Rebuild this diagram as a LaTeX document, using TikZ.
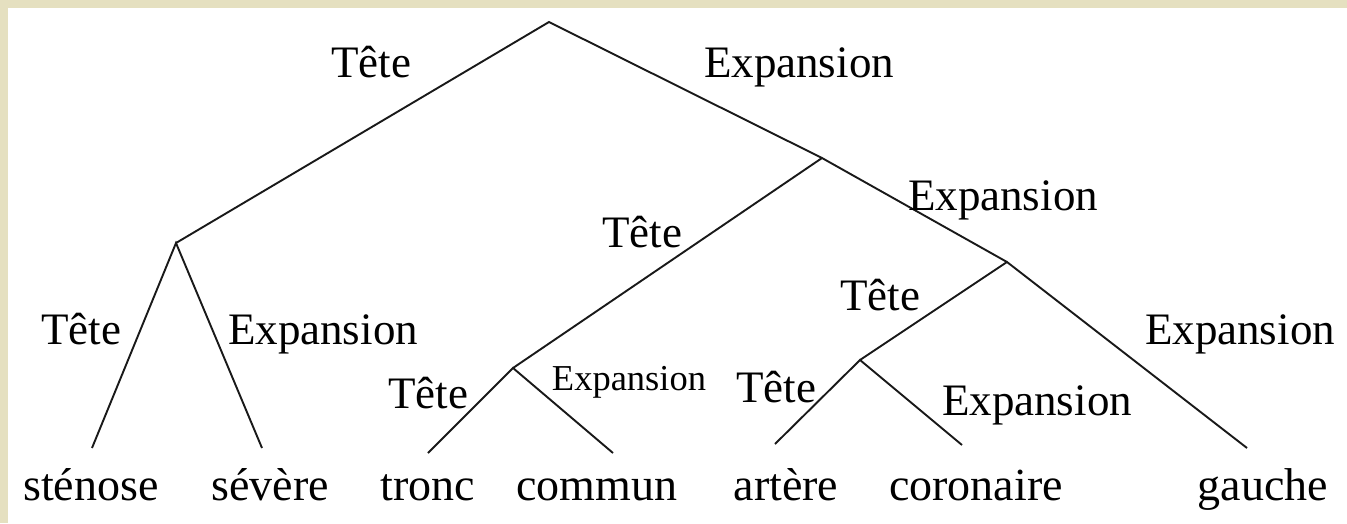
\documentclass[tikz,border=0pt]{standalone}
\usepackage{fontspec}
\setmainfont{Liberation Serif}
\definecolor{parch}{RGB}{229,224,192}
\definecolor{ink}{RGB}{25,25,25}
\tikzset{
  edge/.style={draw=ink, line width=1.9pt},
  lab/.style={anchor=base, inner sep=0pt, text=black, font=\fontsize{45}{50}\selectfont},
  smalllab/.style={anchor=base, inner sep=0pt, text=black, font=\fontsize{36.5}{40}\selectfont},
  leaf/.style={anchor=base, inner sep=0pt, text=black, font=\fontsize{46}{50}\selectfont}
}
\begin{document}
\begin{tikzpicture}[x=1pt,y=-1pt]
\useasboundingbox (0,0) rectangle (1347,523);
\fill[parch] (0,0) rectangle (1347,523);
\fill[white] (8,8) rectangle (1347,523);
% internal vertices
\coordinate (R) at (549,22);
\coordinate (A) at (176,243);
\coordinate (B) at (822,158);
\coordinate (C) at (1007,262);
\coordinate (D) at (513,368);
\coordinate (E) at (860,360);
% leaf line ends
\coordinate (l1) at (92,448);
\coordinate (l2) at (262,448);
\coordinate (l3) at (428,453);
\coordinate (l4) at (613,453);
\coordinate (l5) at (775,444);
\coordinate (l6) at (962,445);
\coordinate (l7) at (1247,448);
% edges
\draw[edge] (A) -- (R) -- (B);
\draw[edge] (D) -- (B) -- (C);
\draw[edge] (E) -- (C) -- (l7);
\draw[edge] (l1) -- (A) -- (l2);
\draw[edge] (l3) -- (D) -- (l4);
\draw[edge] (l5) -- (E) -- (l6);
% edge labels
\node[lab] (t1) at (371,77) {Tête};
\node[lab] (e1) at (799,77) {Expansion};
\node[lab] (e2) at (1003,210) {Expansion};
\node[lab] (t2) at (642,247) {Tête};
\node[lab] (t3) at (81,344) {Tête};
\node[lab] (e3) at (323,344) {Expansion};
\node[lab] (t4) at (880,310) {Tête};
\node[lab] (e4) at (1240,344) {Expansion};
\node[lab] (t5) at (428,408) {Tête};
\node[smalllab] (e5) at (629,390) {Expansion};
\node[lab] (t6) at (776,402) {Tête};
\node[lab] (e6) at (1037,415) {Expansion};
% leaves
\node[leaf] (w1) at (91,500) {sténose};
\node[leaf] (w2) at (270,500) {sévère};
\node[leaf] (w3) at (428,500) {tronc};
\node[leaf] (w4) at (597,500) {commun};
\node[leaf] (w5) at (786,500) {artère};
\node[leaf] (w6) at (976,500) {coronaire};
\node[leaf] (w7) at (1263,500) {gauche};
\end{tikzpicture}
\end{document}
